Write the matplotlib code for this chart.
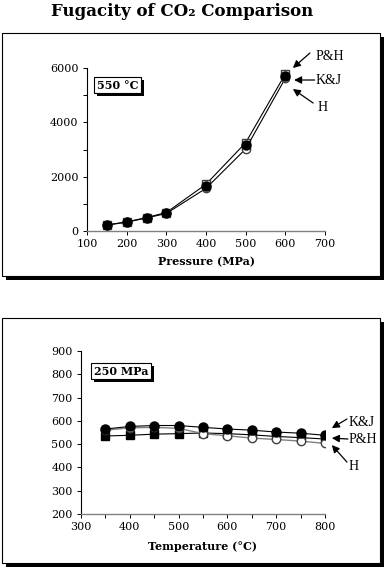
import matplotlib
matplotlib.use("Agg")
import matplotlib.pyplot as plt
import matplotlib.patches as mpatches
import matplotlib.patheffects as pe
from matplotlib.ticker import MultipleLocator

plt.rcParams['font.family'] = 'DejaVu Serif'

# top panel: 550 C, fugacity vs pressure
pressure = [150, 200, 250, 300, 400, 500, 600]
ph_p = [222, 335, 495, 680, 1720, 3250, 5780]
kj_p = [220, 330, 490, 660, 1670, 3150, 5700]
h_p = [218, 325, 480, 645, 1570, 3020, 5620]

# bottom panel: 250 MPa, fugacity vs temperature
temperature = [350, 400, 450, 500, 550, 600, 650, 700, 750, 800]
ph_t = [535, 538, 543, 545, 548, 545, 540, 533, 528, 522]
kj_t = [565, 576, 580, 580, 572, 565, 560, 552, 547, 538]
h_t = [560, 570, 572, 568, 545, 536, 526, 520, 513, 503]

W, H = 384, 567
fig = plt.figure(figsize=(W / 100, H / 100), dpi=100)


def frame(top, bottom):
    # panel frame with black drop shadow (pixel coords from top-left)
    x0, x1 = 2, 380
    sh = mpatches.Rectangle(((x0 + 4) / W, 1 - (bottom + 4) / H), (x1 - x0) / W,
                            (bottom - top) / H, transform=fig.transFigure,
                            fc='black', ec='black', lw=0, zorder=-2)
    fr = mpatches.Rectangle((x0 / W, 1 - bottom / H), (x1 - x0) / W, (bottom - top) / H,
                            transform=fig.transFigure, fc='white', ec='black', lw=0.8,
                            zorder=-1)
    fig.patches.append(sh)
    fig.patches.append(fr)


frame(33, 276)
frame(318, 563)

fig.text(182 / W, 1 - 11 / H, "Fugacity of CO₂ Comparison", ha='center', va='center',
         fontsize=12, fontweight='bold')


def style(ax):
    for s in ['top', 'right']:
        ax.spines[s].set_visible(False)
    ax.spines['bottom'].set_color('#808080')
    ax.spines['left'].set_color('black')
    ax.spines['bottom'].set_linewidth(1.0)
    ax.spines['left'].set_linewidth(0.8)
    ax.tick_params(which='both', direction='out', length=3, width=0.7, labelsize=8,
                   colors='black', pad=3)
    ax.patch.set_alpha(0)


def label_box(ax, x, y, s):
    t = ax.text(x, y, s, transform=ax.transAxes, ha='center', va='center', fontsize=8,
                fontweight='bold', color='black',
                bbox=dict(boxstyle='square,pad=0.25', fc='white', ec='black', lw=0.8))
    t.get_bbox_patch().set_path_effects([
        pe.SimplePatchShadow(offset=(2, -2), shadow_rgbFace='black', alpha=1),
        pe.Normal()])


def arrow(ax, text, txy, tail, head):
    ax.annotate('', xy=head, xytext=tail, annotation_clip=False,
                arrowprops=dict(arrowstyle='-|>', color='black', lw=0.9,
                                mutation_scale=11, shrinkA=0, shrinkB=0))
    ax.text(txy[0], txy[1], text, ha='left', va='center', fontsize=10,
            family='Liberation Serif', clip_on=False)


# ---- top panel
ax1 = fig.add_axes([87 / W, 1 - 231 / H, 238 / W, 163 / H])
style(ax1)
ax1.plot(pressure, ph_p, color='black', lw=0.8, marker='s', ms=5.5, mfc='white',
         mec='#404040', zorder=3)
ax1.plot(pressure, h_p, color='black', lw=0.8, marker='o', ms=6, mfc='white',
         mec='#404040', zorder=3)
ax1.plot(pressure, kj_p, color='black', lw=0, marker='o', ms=6.5, mfc='black',
         mec='black', zorder=4)
ax1.set_xlim(100, 700)
ax1.set_ylim(0, 6000)
ax1.xaxis.set_major_locator(MultipleLocator(100))
ax1.yaxis.set_major_locator(MultipleLocator(2000))
ax1.yaxis.set_minor_locator(MultipleLocator(1000))
ax1.set_xlabel('Pressure (MPa)', fontsize=8, fontweight='bold', labelpad=5)
label_box(ax1, 0.13, 0.895, '550 °C')
arrow(ax1, 'P&H', (677, 6405), (662, 6552), (619, 6000))
arrow(ax1, 'K&J', (677, 5558), (674, 5558), (622, 5558))
arrow(ax1, 'H', (680, 4528), (670, 4712), (619, 5227))

# ---- bottom panel
ax2 = fig.add_axes([81 / W, 1 - 514 / H, 244 / W, 163 / H])
style(ax2)
ax2.plot(temperature, ph_t, color='black', lw=0.8, marker='s', ms=5.5, mfc='black',
         mec='black', zorder=3)
ax2.plot(temperature, h_t, color='#808080', lw=1.0, marker='o', ms=6, mfc='white',
         mec='#404040', zorder=3)
ax2.plot(temperature, kj_t, color='black', lw=0.8, marker='o', ms=6.5, mfc='black',
         mec='black', zorder=4)
ax2.set_xlim(300, 800)
ax2.set_ylim(200, 900)
ax2.xaxis.set_major_locator(MultipleLocator(100))
ax2.xaxis.set_minor_locator(MultipleLocator(50))
ax2.yaxis.set_major_locator(MultipleLocator(100))
ax2.set_xlabel('Temperature (°C)', fontsize=8, fontweight='bold', labelpad=6)
label_box(ax2, 0.164, 0.877, '250 MPa')
arrow(ax2, 'K&J', (849, 595), (845, 608), (814, 569))
arrow(ax2, 'P&H', (849, 522), (847, 522), (814, 526))
arrow(ax2, 'H', (849, 402), (845, 423), (814, 496))

fig.savefig('out.png', dpi=100)
